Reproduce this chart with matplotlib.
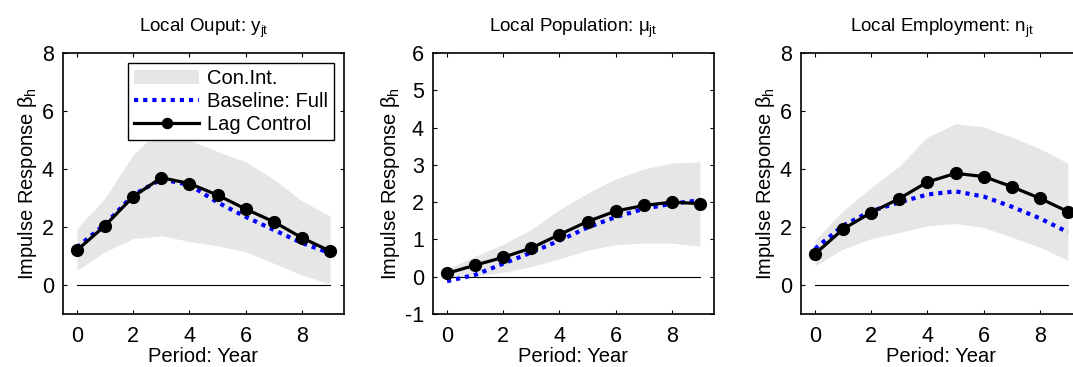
import numpy as np
import matplotlib.pyplot as plt

plt.rcParams['font.family'] = ['Liberation Sans', 'DejaVu Sans']
plt.rcParams['mathtext.fontset'] = 'custom'
plt.rcParams['mathtext.rm'] = 'Liberation Sans'
plt.rcParams['mathtext.it'] = 'Liberation Sans'
plt.rcParams['axes.unicode_minus'] = False

periods = np.arange(10)

# Local output
out_lag = [1.2, 2.05, 3.05, 3.7, 3.5, 3.1, 2.62, 2.18, 1.63, 1.17]
out_base = [1.3, 2.1, 3.1, 3.65, 3.45, 2.85, 2.35, 1.9, 1.45, 1.1]
out_hi = [1.95, 3.0, 4.5, 5.4, 5.0, 4.6, 4.25, 3.65, 2.9, 2.38]
out_lo = [0.5, 1.15, 1.6, 1.7, 1.5, 1.35, 1.15, 0.75, 0.35, 0.03]

# Local population
pop_lag = [0.09, 0.31, 0.52, 0.77, 1.13, 1.48, 1.76, 1.91, 2.0, 1.96]
pop_base = [-0.12, 0.05, 0.35, 0.65, 0.97, 1.32, 1.6, 1.82, 1.96, 2.05]
pop_hi = [0.2, 0.55, 0.87, 1.27, 1.8, 2.24, 2.62, 2.89, 3.05, 3.08]
pop_lo = [-0.05, 0.02, 0.12, 0.27, 0.48, 0.71, 0.86, 0.9, 0.9, 0.82]

# Local employment
emp_lag = [1.07, 1.93, 2.5, 2.98, 3.55, 3.85, 3.74, 3.39, 2.99, 2.53]
emp_base = [1.25, 2.05, 2.55, 2.85, 3.12, 3.23, 3.05, 2.7, 2.3, 1.82]
emp_hi = [1.55, 2.56, 3.36, 4.1, 5.1, 5.56, 5.45, 5.1, 4.7, 4.2]
emp_lo = [0.66, 1.24, 1.6, 1.81, 2.04, 2.12, 1.98, 1.65, 1.3, 0.85]

titles = ['Local Ouput: y$_{jt}$', 'Local Population: $\\mu_{jt}$', 'Local Employment: n$_{jt}$']
ylims = [(-1, 8), (-1, 6), (-1, 8)]
yticks = [[0, 2, 4, 6, 8], [-1, 0, 1, 2, 3, 4, 5, 6], [0, 2, 4, 6, 8]]

panels = [
    (out_lag, out_base, out_hi, out_lo),
    (pop_lag, pop_base, pop_hi, pop_lo),
    (emp_lag, emp_base, emp_hi, emp_lo),
]

W, H = 1073, 367
fig = plt.figure(figsize=(W / 100, H / 100), dpi=100)
lefts = [63, 433, 801]
ax_w, ax_top, ax_bot = 281, 53, 314

for i, (lag, base, hi, lo) in enumerate(panels):
    ax = fig.add_axes([lefts[i] / W, 1 - ax_bot / H, ax_w / W, (ax_bot - ax_top) / H])
    ci = ax.fill_between(periods, lo, hi, color='#e6e6e6', lw=0, label='Con.Int.')
    ax.plot(periods, np.zeros(10), color='black', lw=0.8)
    bl, = ax.plot(periods, base, color='#0000ff', lw=3, ls=(0, (1, 1.2)), label='Baseline: Full')
    lc, = ax.plot(periods, lag, color='black', lw=2.3, marker='o', ms=8.5, label='Lag Control')
    ax.set_xlim(-0.5, 9.5)
    ax.set_ylim(*ylims[i])
    ax.set_xticks([0, 2, 4, 6, 8])
    ax.set_yticks(yticks[i])
    ax.tick_params(direction='in', top=True, right=True, labelsize=15.5, length=3, width=0.8)
    ax.tick_params(axis='x', pad=9)
    ax.tick_params(axis='y', pad=6.5)
    for s in ax.spines.values():
        s.set_linewidth(1.2)
    ax.set_title(titles[i], fontsize=13.5, pad=15)
    ax.set_xlabel('Period: Year', fontsize=14.5, labelpad=0)
    ax.set_ylabel('Impulse Response $\\beta_h$', fontsize=14.5, labelpad=2)
    if i == 0:
        leg = ax.legend(handles=[ci, bl, lc], loc='upper right', fontsize=14.5,
                        fancybox=False, framealpha=1, edgecolor='black',
                        borderpad=0.3, handlelength=3.2, handletextpad=0.4,
                        labelspacing=0.2, borderaxespad=0.5, markerscale=0.85)
        leg.get_frame().set_linewidth(1.0)

fig.savefig('out.png', dpi=100)
